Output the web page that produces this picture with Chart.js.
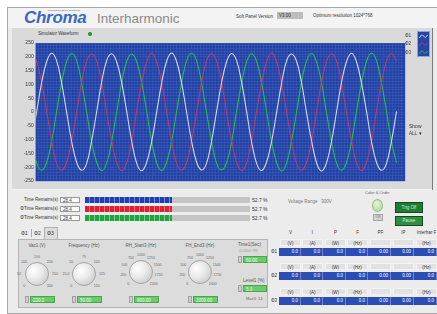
<!DOCTYPE html>
<html lang="en">
<head>
<meta charset="UTF-8">
<script src="https://cdn.jsdelivr.net/npm/chart.js"></script>
<title>Interharmonic</title>
<style>
  html, body { margin: 0; padding: 0; }
  body {
    width: 437px; height: 314px; position: relative; overflow: hidden;
    background: #fff; font-family: "Liberation Sans", Arial, sans-serif; color: #333;
  }
  .a { position: absolute; white-space: nowrap; }
  .tiny { font-size: 4.5px; }
  #frame { left: 7px; top: 7px; width: 440px; height: 305px; background: #ececec;
    border-top: 1px solid #a8a8a8; border-left: 1px solid #a8a8a8; border-bottom: 1px solid #a8a8a8; }
  #header { left: 8px; top: 8px; width: 429px; height: 20px; background: #f3f3f3; }
  #logo { left: 24px; top: 8px; font: italic bold 17px "Liberation Sans", Arial, sans-serif; color: #3a68c2; letter-spacing: -0.3px; }
  #title { left: 97px; top: 11px; font-size: 13.5px; color: #8a8a8a; }
  #panel { left: 12px; top: 28px; width: 420px; height: 161px; background: #dadada; border-bottom: 1px solid #f4f4f4; }
  #wave { left: 8px; top: 38px; }
  .inp { background: #fff; border: 1px solid #9a9a9a; height: 6px; line-height: 6px; font-size: 4.5px; padding-left: 2px; box-sizing: border-box; }
  .bar { background: #c4c4c4; height: 6px; }
  .fill { height: 6px; }
  .btn { color: #d8f0d8; text-align: center; font-size: 4.5px; border: 1px solid #0f4d1c; box-sizing: border-box; }
  .knob { border-radius: 50%; border: 1px solid #a4a4a4; box-sizing: border-box;
    background: radial-gradient(circle at 35% 35%, #ffffff 0%, #e8e8e8 45%, #bdbdbd 100%); }
  .num { background: #6acb6a; color: #eaffea; font-size: 4.5px; height: 7px; line-height: 7px; padding-left: 2px; box-sizing: border-box; border: 1px solid #4aa64a; }
  .spin { width: 4px; height: 7px; background: #cfcfcf; border: 1px solid #a0a0a0; box-sizing: border-box; }
  .cell { height: 7px; line-height: 7px; font-size: 4.5px; text-align: center; box-sizing: border-box; }
</style>
</head>
<body>
<div id="frame" class="a"></div>
<div id="header" class="a"></div>
<div class="a" style="left:48px;top:9px;font-size:2.5px;color:#555;">Working for Better Tomorrow</div>
<div id="logo" class="a">Chroma</div>
<div id="title" class="a">Interharmonic</div>
<div class="a tiny" style="left:236px;top:14px;">Soft Panel Version</div>
<div class="a tiny" style="left:277px;top:12px;width:26px;height:7px;line-height:7px;background:#bcbcbc;padding-left:2px;box-sizing:border-box;">V3.00</div>
<div class="a tiny" style="left:313px;top:13px;">Optimum resolution 1024*768</div>

<div id="panel" class="a"></div>
<div class="a tiny" style="left:38px;top:31px;">Simulator Waveform</div>
<div class="a" style="left:88px;top:32px;width:4px;height:4px;border-radius:50%;background:#2a8c2a;"></div>
<canvas id="wave" class="a" width="400" height="148"></canvas>

<div class="a tiny" style="left:405px;top:33px;">Φ1</div>
<div class="a tiny" style="left:405px;top:41px;">Φ2</div>
<div class="a tiny" style="left:405px;top:50px;">Φ3</div>
<svg class="a" style="left:417px;top:31px;" width="13" height="26">
  <rect x="0.5" y="0.5" width="12" height="25" fill="#2546a8" stroke="#8ea4d8"/>
  <path d="M2.5 7 Q4.5 2 6.5 5 T10.5 4" stroke="#dcdce8" fill="none" stroke-width="0.9"/>
  <path d="M2.5 15 Q4.5 10 6.5 13 T10.5 12" stroke="#c23a70" fill="none" stroke-width="0.9"/>
  <path d="M2.5 23 Q4.5 18 6.5 21 T10.5 20" stroke="#2cbc45" fill="none" stroke-width="0.9"/>
</svg>
<div class="a" style="left:432px;top:28px;width:1px;height:162px;background:#7a7a7a;"></div>
<div class="a" style="left:409px;top:123px;font-size:5px;">Show</div>
<div class="a tiny" style="left:409px;top:131px;">ALL ▼</div>

<div id="rows"></div>
<div class="a tiny" style="left:288px;top:199px;color:#777;">Voltage Range&nbsp;&nbsp; 300V</div>
<div class="a" style="left:365px;top:190px;font-size:4px;color:#666;">Color &amp; Order</div>
<div class="a" style="left:372px;top:199px;width:11px;height:13px;border-radius:50%;background:radial-gradient(circle at 40% 35%,#e6f7d8,#a8d890);border:1px solid #9ab88a;box-sizing:border-box;"></div>
<div class="a" style="left:373px;top:214px;width:10px;height:7px;background:#d2d2d2;border:1px solid #a6a6a6;box-sizing:border-box;font-size:3.5px;text-align:center;line-height:5px;color:#777;">Off</div>
<div class="a btn" style="left:395px;top:202px;width:28px;height:11px;line-height:9px;background:#1e7d32;">Trig Off</div>
<div class="a btn" style="left:395px;top:216px;width:28px;height:10px;line-height:8px;background:#2f8f40;">Pause</div>

<div class="a" style="left:44px;top:227px;width:14px;height:13px;background:#dcdcdc;border:1px solid #b0b0b0;border-bottom:none;box-sizing:border-box;"></div>
<div class="a" style="left:18px;top:239px;width:250px;height:69px;background:#dcdcdc;border:1px solid #b5b5b5;box-sizing:border-box;"></div>
<div class="a" style="font-size:5px;left:21px;top:230px;">Φ1</div>
<div class="a" style="left:31px;top:229px;width:1px;height:8px;background:#aaa;"></div>
<div class="a" style="font-size:5px;left:34px;top:230px;">Φ2</div>
<div class="a" style="font-size:5px;left:47px;top:230px;">Φ3</div>
<div id="knobs"></div>

<div class="a tiny" style="left:238px;top:242px;color:#555;">Time1(Sec)</div>
<div class="a" style="left:239px;top:249px;font-size:3.5px;color:#9a9a9a;">(0.0000~99)</div>
<div class="a spin" style="left:238px;top:256px;"></div>
<div class="a num" style="left:243px;top:256px;width:24px;">60.00</div>
<div class="a tiny" style="left:243px;top:278px;color:#555;">Level1 (%)</div>
<div class="a spin" style="left:238px;top:285px;"></div>
<div class="a num" style="left:243px;top:285px;width:24px;">5.0</div>
<div class="a" style="left:246px;top:296px;font-size:4px;color:#666;">Max3: 14</div>

<div id="table"></div>

<script>
// waveform samples, 12 per cycle
const startPhase = -0.8;
const yTicks = { min: -250, max: 250, step: 50 };
const phaseNames = ['Φ1', 'Φ2', 'Φ3'];

const whiteWave = [
  -106, 2, 107, 183, 213, 185, 104, -2, -107, -183, -211, -186,
  -104, 1, 108, 186, 211, 182, 107, 3, -105, -185, -213, -183,
  -108, -1, 105, 184, 214, 183, 105, -1, -106, -182, -210, -185,
  -105, 3, 106, 182, 212, 186, 108, 2, -108, -186, -212, -182,
  -107, -2, 104, 185, 210, 184, 106, -3, -104, -184, -214, -184,
  -106, 1, 107, 183, 213, 182, 104, 2, -107, -183, -211, -186,
  -105, 2
];
const redWave = [
  212, 183, 104, 3, -107, -186, -211, -182, -105, -2, 108, 185,
  210, 186, 107, -1, -104, -183, -213, -185, -108, 2, 105, 182,
  213, 182, 105, 2, -108, -185, -210, -184, -103, -3, 107, 186,
  211, 185, 108, -2, -105, -182, -212, -186, -106, 1, 104, 183,
  214, 183, 104, 1, -107, -186, -211, -183, -107, -1, 108, 184,
  210, 186, 106, -3, -104, -184, -213, -182, -105, 3, 106, 185,
  212, 183
];
const greenWave = [
  -106, -185, -211, -183, -105, 2, 107, 184, 212, 186, 104, -1,
  -108, -182, -213, -186, -107, -2, 105, 183, 210, 183, 108, 3,
  -104, -184, -212, -182, -106, 1, 106, 186, 213, 185, 105, -2,
  -107, -186, -210, -184, -108, 3, 104, 182, 211, 184, 107, 1,
  -105, -183, -214, -185, -104, -1, 108, 185, 212, 182, 106, -3,
  -106, -185, -211, -183, -107, 2, 105, 184, 213, 186, 104, 1,
  -108, -184
];

// bars under the scope
const remainLabels = ['Time Remains(s)', 'ΦTime Remains(s)', 'ΦTime Remains(s)'];
const remainValues = ['28.4', '28.4', '28.4'];
const remainPercent = [52.7, 52.7, 52.7];

// knobs
const knobTitles = ['Vac1 (V)', 'Frequency (Hz)', 'RH_Start3 (Hz)', 'FH_End3 (Hz)'];
const knobValues = ['220.0', '50.00', '800.00', '1000.00'];
const knobScales = [
  ['0', '50', '100', '150', '200', '250', '300'],
  ['0', '25.0', '50', '75', '100', '125', '150'],
  ['0', '250', '500', '750', '1000', '1250', '1500', '1750', '2400'],
  ['0', '250', '500', '750', '1000', '1250', '1500', '1750', '2400']
];

// measurement table
const tableHeads = ['V', 'I', 'P', 'F', 'PF', 'IP', 'Interhar F'];
const tableUnits = ['(V)', '(A)', '(W)', '(Hz)', '', '', '(Hz)'];
const tableValues = ['0.0', '0.0', '0.0', '0.0', '0.00', '0.00', '0.0'];

function toPoints(arr) {
  return arr.map((v, i) => ({ x: startPhase + i, y: v }));
}

function el(parent, cls, style, text) {
  const d = document.createElement('div');
  d.className = 'a ' + cls;
  d.setAttribute('style', style);
  if (text !== undefined) d.textContent = text;
  parent.appendChild(d);
  return d;
}

// remains rows
const rows = document.getElementById('rows');
const barColors = [
  ['#1f3fb2', '#6f89d8'],
  ['#e0202e', '#f07a80'],
  ['#1ea63a', '#7fd08c']
];
remainLabels.forEach((lab, i) => {
  const top = 197 + i * 9;
  el(rows, 'tiny', `left:0;top:${top}px;width:58px;text-align:right;`, lab);
  el(rows, 'inp', `left:60px;top:${top}px;width:20px;`, remainValues[i]);
  el(rows, 'bar', `left:85px;top:${top}px;width:165px;`);
  const c = barColors[i];
  el(rows, 'fill', `left:85px;top:${top}px;width:${165 * remainPercent[i] / 100}px;` +
    `background:repeating-linear-gradient(90deg, ${c[0]} 0 4px, ${c[1]} 4px 5px);`);
  el(rows, '', `left:252px;top:${top}px;font-size:5px;`, remainPercent[i].toFixed(1) + ' %');
});

// knobs
const knobs = document.getElementById('knobs');
const knobX = [37, 84, 141, 200];
const knobY = [274, 274, 272, 272];
knobTitles.forEach((t, k) => {
  const cx = knobX[k], cy = knobY[k];
  el(knobs, 'tiny', `left:${cx - 20}px;top:243px;width:40px;text-align:center;color:#555;`, t);
  el(knobs, 'knob', `left:${cx - 12}px;top:${cy - 12}px;width:24px;height:24px;`);
  const labs = knobScales[k];
  labs.forEach((s, j) => {
    const ang = (225 - 270 * j / (labs.length - 1)) * Math.PI / 180;
    const lx = cx + 18 * Math.cos(ang), ly = cy - 17 * Math.sin(ang);
    el(knobs, '', `left:${lx - 8}px;top:${ly - 2}px;width:16px;text-align:center;font-size:3.5px;color:#666;`, s);
  });
  el(knobs, 'spin', `left:${cx - 12}px;top:296px;`);
  el(knobs, 'num', `left:${cx - 7}px;top:296px;width:25px;`, knobValues[k]);
});

// table
const table = document.getElementById('table');
const colLeft = [280, 302, 325, 347, 370, 393, 416];
tableHeads.forEach((h, c) => {
  el(table, 'cell', `left:${colLeft[c]}px;top:229px;width:21px;`, h);
});
[239, 263, 288].forEach((top, r) => {
  tableUnits.forEach((u, c) => {
    el(table, 'cell', `left:${colLeft[c]}px;top:${top}px;width:21px;background:#e2e2e2;border:1px solid #f2f2f2;`, u);
  });
  el(table, '', `left:279px;top:${top + 9}px;width:158px;height:8px;background:#2b4db4;`);
  tableValues.forEach((v, c) => {
    el(table, 'cell', `left:${colLeft[c]}px;top:${top + 9}px;width:21px;height:8px;line-height:8px;color:#fff;text-align:right;padding-right:2px;border-right:1px solid #6d86d0;`, v);
  });
  el(table, '', `left:271px;top:${top + 10}px;font-size:4.5px;`, phaseNames[r]);
});

// scope background
const plotBg = {
  id: 'plotBg',
  beforeDraw(chart) {
    const { ctx, chartArea: a } = chart;
    ctx.save();
    ctx.fillStyle = '#2342a4';
    ctx.fillRect(a.left, a.top, a.right - a.left, a.bottom - a.top);
    ctx.restore();
  }
};

const gridColor = 'rgba(80,115,210,0.28)';
const ctx = document.getElementById('wave').getContext('2d');
new Chart(ctx, {
  type: 'line',
  data: {
    datasets: [
      { label: 'Φ1', data: toPoints(whiteWave), borderColor: '#d6d8ea' },
      { label: 'Φ2', data: toPoints(redWave), borderColor: '#bf3a70' },
      { label: 'Φ3', data: toPoints(greenWave), borderColor: '#2cbc45' }
    ]
  },
  options: {
    responsive: false,
    animation: false,
    layout: { padding: { top: 5, bottom: 1.5, right: 3, left: 0 } },
    elements: {
      line: { borderWidth: 1.1, tension: 0.4 },
      point: { radius: 0 }
    },
    plugins: { legend: { display: false }, tooltip: { enabled: false } },
    scales: {
      x: {
        type: 'linear', min: 0, max: 73.9,
        ticks: { display: false, stepSize: 0.6, maxTicksLimit: 1000, autoSkip: false },
        grid: { color: gridColor, drawTicks: false },
        border: { display: false },
        afterFit(s) { s.height = 0; }
      },
      y: {
        min: yTicks.min, max: yTicks.max,
        ticks: {
          stepSize: 10, maxTicksLimit: 1000, autoSkip: false, padding: 2,
          color: '#333', font: { size: 5, family: 'Liberation Sans' },
          callback: v => (v % yTicks.step === 0 ? v : '')
        },
        grid: { color: gridColor, drawTicks: false },
        border: { display: false },
        afterFit(s) { s.width = 27.7; }
      }
    }
  },
  plugins: [plotBg]
});
</script>
</body>
</html>
